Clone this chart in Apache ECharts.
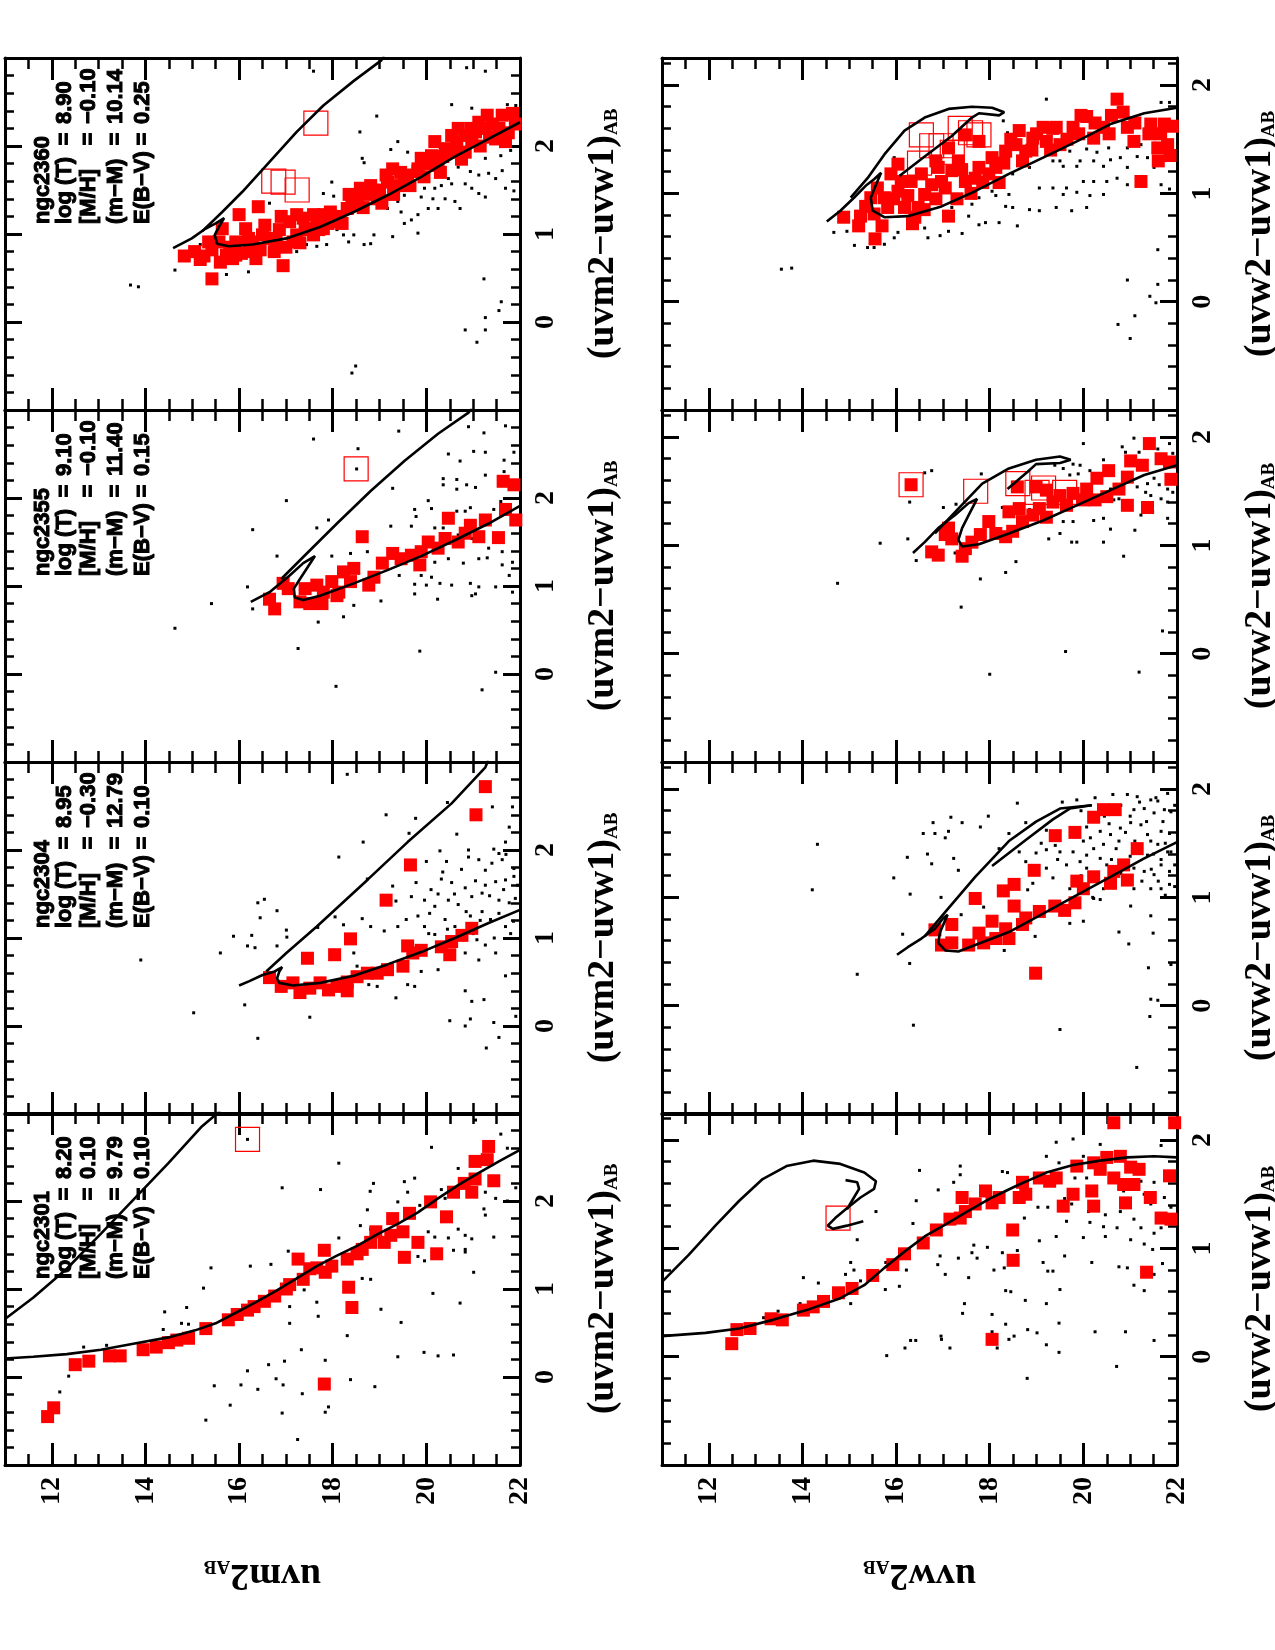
<!DOCTYPE html>
<html><head><meta charset="utf-8">
<script src="https://cdn.jsdelivr.net/npm/echarts@6/dist/echarts.min.js"></script>
<style>html,body{margin:0;padding:0;background:#fff}#c{width:1275px;height:1650px}</style>
</head><body><div id="c"></div>
<script>
// ---------- tick labels / texts ----------
const magTicks = [12, 14, 16, 18, 20, 22];
const colorTicks = [0, 1, 2];
const magNames = ['uvm2', 'uvw2'];
const colorNames = ['(uvm2\u2212uvw1)', '(uvw2\u2212uvw1)'];
const clusters = ['ngc2301', 'ngc2304', 'ngc2355', 'ngc2360'];
const logT = ['8.20', '8.95', '9.10', '8.90'];
const metal = ['0.10', '\u22120.30', '\u22120.10', '\u22120.10'];
const distMod = ['9.79', '12.79', '11.40', '10.14'];
const ebv = ['0.10', '0.10', '0.15', '0.25'];

// ---------- uvm2 panels: [magnitude, colour] ----------
const m2301Members = [[11.91,-0.45],[12.04,-0.35],[12.50,0.14],[12.79,0.18],[13.23,0.24],[13.46,0.24],[13.95,0.31],[14.23,0.34],[14.49,0.39],[14.67,0.42],[14.92,0.44],[15.29,0.55],[15.77,0.65],[15.96,0.71],[16.18,0.76],[16.32,0.80],[16.54,0.86],[16.76,0.92],[17.01,1.00],[17.08,1.05],[17.26,1.34],[17.37,1.11],[17.51,1.23],[17.66,1.24],[17.82,1.44],[17.84,1.19],[17.98,1.26],[18.31,1.34],[18.34,1.02],[18.41,0.79],[18.52,1.40],[18.63,1.45],[18.81,1.53],[18.92,1.65],[19.10,1.53],[19.24,1.61],[19.28,1.80],[19.50,1.65],[19.53,1.36],[19.64,1.86],[19.82,1.53],[20.09,1.99],[20.22,1.40],[20.43,1.82],[20.58,2.10],[20.81,2.20],[20.97,2.10],[21.04,2.25],[21.04,2.45],[21.30,2.47],[21.33,2.62],[21.44,2.23],[17.82,-0.08]];
const m2301Open = [[16.18,2.70]];
const m2301IsoA = [[11.0,0.21],[11.60,0.23],[12.32,0.26],[13.05,0.31],[13.77,0.38],[14.49,0.45],[15.06,0.53],[15.50,0.61],[15.93,0.73],[16.36,0.85],[16.79,0.98],[17.23,1.12],[17.66,1.26],[18.09,1.38],[18.52,1.49],[18.95,1.62],[19.39,1.74],[19.82,1.87],[20.25,2.03],[20.68,2.18],[21.12,2.32],[21.55,2.45],[22.0,2.58]];
const m2301IsoB = [[11.0,0.66],[11.60,0.90],[12.32,1.23],[13.05,1.63],[13.77,2.03],[14.49,2.43],[15.21,2.85],[15.50,2.98],[15.60,3.03]];
const m2301Field = [[16.18,2.70],[18.13,2.43],[20.11,2.61],[21.05,2.92],[21.59,2.76],[21.73,2.60],[21.91,2.15],[16.92,2.15],[17.74,2.13],[18.87,2.20],[18.80,2.11],[19.53,2.22],[19.75,2.26],[19.60,2.10],[19.39,1.99],[20.32,2.13],[20.40,2.03],[20.68,2.37],[21.26,2.10],[21.48,2.03],[21.73,2.00],[18.74,1.90],[19.86,1.95],[18.59,1.72],[18.81,1.68],[18.13,1.58],[20.04,1.65],[20.18,1.59],[20.47,1.58],[20.68,1.68],[20.83,1.61],[20.83,1.45],[20.97,1.57],[21.23,1.91],[21.26,1.84],[21.44,1.59],[20.58,1.44],[20.83,1.42],[19.96,1.32],[19.82,1.37],[20.14,0.95],[20.72,0.84],[21.01,1.19],[17.05,1.43],[16.68,1.28],[16.24,1.26],[15.40,1.24],[15.24,1.01],[14.88,0.79],[14.41,0.74],[14.77,0.61],[14.92,0.60],[14.38,0.54],[12.68,0.34],[13.17,0.36],[12.36,0.01],[12.17,-0.17],[18.63,1.12],[18.81,1.11],[19.03,0.77],[19.46,0.62],[18.31,0.47],[17.66,0.85],[17.69,0.69],[17.08,0.80],[17.39,0.99],[17.08,0.61],[17.33,0.31],[17.84,0.19],[19.39,0.23],[20.25,0.24],[19.95,0.28],[20.58,0.25],[16.97,0.18],[16.63,0.14],[16.18,0.07],[16.04,-0.09],[15.47,-0.10],[16.40,-0.14],[16.79,-0.02],[16.94,-0.09],[17.35,-0.19],[18.38,-0.03],[18.90,-0.11],[15.81,-0.32],[15.29,-0.49],[16.92,-0.41],[17.91,-0.34],[17.84,-0.40],[17.25,-0.71]];

const m2304Members = [[21.26,2.72],[21.06,2.40],[19.66,1.83],[19.14,1.43],[18.38,0.99],[18.04,0.81],[17.46,0.77],[16.65,0.55],[16.90,0.45],[17.15,0.49],[17.30,0.38],[17.51,0.43],[17.73,0.49],[17.91,0.41],[18.09,0.45],[18.31,0.50],[18.52,0.56],[18.74,0.60],[18.95,0.60],[19.17,0.64],[19.50,0.68],[19.60,0.91],[19.71,0.83],[19.89,0.86],[20.32,0.90],[20.50,0.81],[20.54,0.96],[20.76,1.03],[20.97,1.11],[18.31,0.40]];
const m2304Open = [];
const m2304IsoA = [[22.0,1.32],[21.33,1.17],[20.61,1.00],[19.89,0.84],[19.17,0.70],[18.45,0.57],[17.73,0.49],[17.15,0.46],[16.86,0.49],[16.81,0.54],[16.86,0.62],[16.92,0.67],[16.76,0.62],[16.50,0.58],[16.22,0.51],[16.00,0.46]];
const m2304IsoB = [[16.58,0.62],[17.01,0.83],[17.66,1.13],[18.74,1.66],[19.60,2.09],[20.54,2.53],[21.26,2.94],[21.32,3.02]];
const m2304Field = [[18.31,2.86],[19.14,2.40],[19.77,2.36],[20.45,2.54],[21.41,2.49],[21.84,2.49],[19.63,2.19],[20.65,2.18],[18.65,2.09],[18.13,1.92],[20.29,1.99],[20.90,2.00],[20.90,1.92],[21.44,2.01],[21.55,1.96],[21.69,2.09],[21.77,2.26],[21.87,1.79],[20.00,1.87],[20.43,1.87],[21.12,1.89],[21.26,1.77],[21.62,1.89],[18.74,1.67],[19.28,1.59],[19.78,1.63],[20.32,1.67],[20.54,1.63],[20.83,1.57],[21.26,1.60],[21.48,1.64],[21.69,1.66],[21.87,1.70],[19.35,1.42],[19.68,1.47],[19.96,1.43],[20.18,1.36],[20.47,1.43],[20.68,1.38],[20.97,1.47],[21.19,1.51],[21.55,1.43],[21.77,1.40],[19.82,1.25],[20.07,1.28],[20.40,1.21],[20.61,1.13],[20.94,1.25],[21.19,1.30],[21.37,1.21],[21.69,1.13],[21.86,1.19],[18.63,1.22],[18.81,1.13],[19.10,1.08],[19.39,1.13],[19.57,1.21],[19.96,1.13],[20.18,1.04],[21.08,0.98],[21.26,0.92],[21.48,0.83],[20.83,0.83],[21.12,0.75],[21.69,0.57],[20.83,0.40],[20.97,0.28],[21.23,0.30],[20.50,0.06],[20.94,0.08],[20.83,0.00],[21.44,0.04],[21.55,-0.13],[21.28,-0.25],[21.91,0.11],[20.25,0.64],[19.89,0.62],[19.75,0.45],[19.35,0.32],[19.60,0.47],[18.45,0.83],[18.52,0.68],[18.05,1.24],[18.23,1.15],[16.54,1.44],[16.40,1.40],[16.81,1.31],[16.45,1.23],[17.01,1.09],[17.02,1.01],[15.88,1.02],[16.27,1.03],[16.18,0.91],[16.34,0.89],[16.81,0.91],[15.60,0.83],[13.90,0.75],[15.03,0.15],[16.12,0.24],[16.40,-0.14],[17.51,0.10],[17.68,1.12],[18.95,0.45],[18.77,0.47],[20.10,1.55],[20.35,1.75],[20.60,1.50],[20.75,1.78],[20.85,1.30],[21.05,1.65],[21.15,1.20],[21.35,1.48],[21.40,1.85],[21.55,1.28],[21.65,1.55],[21.80,1.05],[21.90,1.45],[20.45,1.10],[20.25,1.50],[21.00,1.05],[21.45,1.00],[21.70,1.95],[21.95,1.60],[20.05,1.05]];

const m2355Members = [[21.64,2.19],[21.87,2.15],[21.69,1.87],[21.91,1.75],[21.54,1.55],[21.26,1.75],[21.12,1.56],[20.94,1.69],[20.83,1.60],[20.68,1.50],[20.47,1.77],[20.40,1.54],[20.25,1.43],[20.04,1.50],[19.89,1.39],[19.86,1.24],[19.68,1.35],[19.46,1.31],[19.28,1.37],[19.06,1.26],[18.88,1.10],[18.77,1.01],[18.63,1.56],[18.45,1.20],[18.38,1.05],[18.23,1.16],[18.13,0.93],[17.98,1.05],[17.80,0.93],[17.77,0.80],[17.66,1.01],[17.41,0.97],[17.30,0.82],[17.05,0.97],[16.94,1.03],[16.76,0.74],[16.65,0.85],[18.09,0.89],[17.51,0.80]];
const m2355Open = [[18.50,2.33]];
const m2355IsoA = [[22.0,1.91],[21.33,1.71],[20.61,1.52],[19.89,1.34],[19.17,1.18],[18.45,1.03],[17.73,0.89],[17.37,0.84],[17.19,0.87],[17.17,0.97],[17.30,1.08],[17.62,1.34],[17.37,1.26],[17.08,1.12],[16.65,0.93],[16.25,0.82]];
const m2355IsoB = [[16.90,1.08],[17.37,1.33],[18.09,1.71],[18.81,2.08],[19.53,2.42],[20.25,2.73],[20.90,2.97],[20.97,3.02]];
const m2355Field = [[17.59,2.67],[18.54,2.56],[18.51,2.33],[19.41,2.76],[20.90,2.81],[21.23,2.74],[21.69,2.82],[20.47,2.50],[20.72,2.42],[21.01,2.53],[21.26,2.52],[21.66,2.43],[21.87,2.52],[21.66,2.30],[20.36,2.22],[20.65,2.21],[20.86,2.15],[21.05,2.12],[21.26,2.26],[19.28,2.11],[20.36,2.15],[20.65,2.10],[17.01,1.97],[20.04,1.97],[20.11,1.88],[19.75,1.87],[20.65,1.85],[20.83,1.85],[20.94,1.89],[21.44,1.87],[21.59,1.96],[17.91,1.75],[17.66,1.66],[16.29,1.64],[19.24,1.68],[19.68,1.68],[20.18,1.66],[19.78,1.79],[20.36,1.66],[20.68,1.58],[20.97,1.54],[21.33,1.43],[21.62,1.39],[21.84,1.27],[18.38,1.37],[18.74,1.39],[17.98,1.34],[20.18,1.27],[20.47,1.31],[20.79,1.26],[21.12,1.31],[21.30,1.32],[21.62,1.24],[21.77,1.12],[19.42,1.12],[19.89,1.12],[20.11,1.10],[20.29,1.03],[20.54,1.01],[20.94,1.03],[21.12,0.99],[21.48,0.99],[21.84,0.93],[19.75,1.02],[20.00,1.01],[19.75,0.91],[21.05,0.91],[20.97,0.89],[20.24,0.85],[19.03,0.83],[18.45,0.78],[18.23,0.65],[17.69,0.59],[16.29,0.74],[16.18,0.99],[15.41,0.80],[14.63,0.52],[17.26,0.29],[18.07,-0.14],[19.86,0.26],[21.48,0.02],[21.19,-0.18],[16.81,1.34],[17.84,0.89]];

const m2360Members = [[14.83,0.75],[15.17,0.71],[15.42,0.49],[15.42,0.82],[15.57,0.91],[15.73,0.76],[15.86,0.72],[16.00,1.22],[16.14,1.06],[16.29,0.91],[16.36,0.72],[16.41,1.31],[16.65,0.95],[16.86,1.05],[16.94,0.64],[17.08,1.14],[17.23,0.99],[17.37,1.18],[17.59,1.22],[17.59,0.99],[17.80,1.06],[17.95,1.25],[18.09,1.20],[18.31,1.29],[18.52,1.40],[18.59,1.52],[18.81,1.55],[18.95,1.40],[19.14,1.67],[19.28,1.74],[19.39,1.55],[19.53,1.63],[19.82,1.74],[19.89,1.86],[20.11,1.89],[20.25,1.78],[20.40,1.97],[20.54,2.12],[20.68,2.20],[20.83,1.93],[20.97,2.05],[21.12,2.27],[21.26,2.20],[21.41,2.25],[21.62,2.35],[21.84,2.37],[21.69,2.05],[21.48,2.08],[20.83,2.12],[20.18,2.05],[19.82,1.71],[18.88,1.48],[18.09,1.14],[17.66,1.14],[17.23,1.22],[16.79,0.91],[16.50,0.99],[15.93,0.91],[15.64,1.06],[15.35,0.91],[15.93,0.76],[16.22,0.80],[17.15,0.91],[17.41,1.06],[17.80,1.22],[18.41,1.33],[19.17,1.59],[19.60,1.67],[20.47,1.93],[21.05,2.16],[15.05,0.80],[15.25,0.75],[15.60,0.68],[15.80,0.85],[16.05,0.78],[16.20,0.95],[16.45,0.82],[16.55,1.10],[16.75,0.80],[17.00,0.85],[16.90,1.20],[17.30,0.90],[17.45,1.05],[17.70,1.05],[17.90,1.12],[18.20,1.12],[18.35,1.45],[18.65,1.30],[18.75,1.45],[19.00,1.50],[19.05,1.35],[19.30,1.45],[19.45,1.70],[19.65,1.55],[19.95,1.65],[20.00,1.80],[20.30,1.70],[20.35,1.88],[20.60,1.95],[20.75,1.85],[20.95,2.20],[21.15,2.00],[21.35,2.10],[21.55,2.20],[21.75,2.15],[21.90,2.25],[21.30,2.35],[20.65,2.05]];
const m2360Open = [[17.64,2.26],[16.74,1.60],[16.94,1.59],[17.24,1.50]];
const m2360IsoA = [[22.0,2.27],[21.33,2.08],[20.61,1.88],[19.89,1.65],[19.17,1.44],[18.45,1.25],[17.73,1.08],[17.01,0.95],[16.29,0.88],[15.78,0.86],[15.53,0.89],[15.48,0.99],[15.57,1.08],[15.68,1.18],[15.50,1.12],[15.28,1.06],[14.99,0.95],[14.59,0.84]];
const m2360IsoB = [[15.21,1.03],[15.64,1.25],[16.07,1.48],[16.65,1.82],[17.23,2.16],[17.80,2.46],[18.45,2.74],[19.03,2.97],[19.10,3.02]];
const m2360Field = [[17.59,2.85],[20.86,2.89],[21.26,2.85],[20.54,2.47],[20.97,2.43],[21.73,2.47],[21.91,2.46],[18.94,2.34],[18.58,2.16],[19.39,2.05],[19.24,1.96],[19.60,1.93],[18.63,1.86],[18.67,1.81],[21.26,1.86],[21.59,1.89],[21.62,1.72],[21.80,1.95],[20.68,1.76],[20.94,1.71],[21.12,1.67],[21.33,1.69],[21.48,1.63],[21.69,1.52],[21.87,1.49],[20.47,1.63],[20.32,1.55],[20.18,1.52],[20.54,1.57],[20.83,1.57],[20.97,1.52],[21.12,1.46],[21.26,1.42],[19.96,1.52],[19.89,1.42],[20.14,1.40],[20.40,1.40],[20.61,1.37],[20.72,1.29],[20.25,1.29],[20.04,1.29],[19.82,1.22],[19.53,1.44],[19.39,1.37],[19.17,1.29],[19.46,1.25],[19.68,1.16],[19.53,1.12],[19.82,1.01],[19.28,0.97],[18.88,0.99],[18.81,0.89],[18.67,0.88],[18.45,0.99],[18.23,0.99],[18.09,1.05],[17.87,0.88],[17.66,0.86],[17.44,0.88],[17.23,0.80],[17.08,0.84],[18.34,0.91],[17.80,1.46],[17.98,1.59],[18.02,1.43],[16.65,1.35],[16.20,0.57],[15.73,0.54],[15.17,0.88],[14.63,0.59],[13.68,0.42],[13.85,0.40],[21.23,0.49],[21.55,0.13],[21.60,0.23],[21.26,0.05],[20.83,-0.09],[21.26,-0.09],[21.08,-0.23],[18.49,-0.50],[18.41,-0.58]];

// ---------- uvw2 panels ----------
const w2301Members = [[12.49,0.12],[12.60,0.25],[12.88,0.26],[13.33,0.35],[13.57,0.34],[14.02,0.43],[14.23,0.46],[14.45,0.51],[14.77,0.59],[15.06,0.63],[15.50,0.75],[15.93,0.85],[16.18,0.95],[16.58,1.05],[16.86,1.17],[17.15,1.27],[17.37,1.28],[17.41,1.47],[17.91,1.53],[18.05,1.42],[18.20,1.47],[18.49,1.17],[18.50,0.89],[18.63,1.47],[18.70,1.61],[19.06,1.65],[19.28,1.62],[19.42,1.65],[19.57,1.39],[19.78,1.50],[19.86,1.76],[20.18,1.53],[20.22,1.39],[20.22,1.79],[20.36,1.73],[20.50,1.84],[20.65,2.16],[20.65,1.65],[20.79,1.85],[20.86,1.59],[20.90,1.42],[21.01,1.75],[21.08,1.59],[21.19,1.73],[21.35,0.78],[21.43,1.47],[21.66,1.28],[21.84,1.67],[21.87,1.27],[18.05,0.16],[21.95,2.16],[18.77,1.50],[17.69,1.41],[17.48,1.34]];
const w2301Open = [[14.76,1.28]];
const w2301IsoA = [[11.0,0.19],[11.93,0.22],[12.65,0.26],[13.37,0.34],[14.09,0.43],[14.81,0.54],[15.32,0.66],[15.75,0.82],[16.18,0.97],[16.61,1.11],[17.05,1.22],[17.48,1.33],[18.05,1.47],[18.63,1.59],[19.21,1.70],[19.78,1.77],[20.36,1.81],[20.94,1.84],[21.51,1.85],[22.0,1.84]];
const w2301IsoB = [[11.0,0.69],[11.57,0.94],[12.14,1.21],[12.65,1.44],[13.15,1.64],[13.66,1.76],[14.23,1.81],[14.81,1.78],[15.32,1.70],[15.57,1.62],[15.53,1.55],[15.24,1.47],[14.95,1.37],[14.70,1.28],[14.54,1.21],[14.65,1.18],[14.95,1.21],[15.30,1.25]];
const w2301IsoC = [[14.92,1.63],[15.17,1.61],[15.21,1.55],[15.10,1.47],[14.95,1.36]];
const w2301Field = [[19.42,1.98],[19.78,2.01],[20.36,1.96],[21.66,1.95],[19.21,1.85],[19.48,1.79],[20.00,1.85],[17.37,1.76],[16.50,1.72],[18.27,1.71],[18.38,1.70],[17.37,1.68],[17.23,1.61],[16.90,1.54],[19.82,1.65],[20.07,1.65],[20.58,1.62],[20.86,1.53],[21.23,1.62],[21.51,1.61],[21.73,1.47],[21.30,1.50],[19.60,1.46],[19.75,1.41],[19.03,1.38],[19.24,1.38],[20.11,1.34],[20.47,1.31],[20.79,1.34],[21.08,1.27],[21.44,1.41],[21.87,1.38],[18.74,1.28],[19.64,1.25],[20.14,1.24],[20.43,1.20],[20.72,1.19],[21.23,1.19],[21.51,1.14],[21.66,1.19],[19.42,1.11],[19.06,1.07],[20.00,1.10],[20.47,1.11],[21.01,1.08],[21.30,1.04],[21.48,0.99],[17.66,1.03],[17.95,1.01],[18.27,0.96],[18.59,0.98],[19.60,0.93],[20.18,0.87],[19.14,0.87],[17.62,0.96],[17.73,0.91],[17.33,0.91],[17.05,0.76],[17.55,0.73],[19.24,0.79],[19.50,0.62],[19.35,0.79],[18.76,0.52],[19.21,0.49],[18.34,0.61],[18.45,0.60],[18.31,0.82],[18.09,0.80],[20.76,0.83],[20.94,0.82],[21.08,0.66],[21.30,0.61],[21.51,0.76],[21.69,0.86],[15.03,0.87],[15.10,0.80],[14.92,0.76],[15.24,0.70],[14.34,0.68],[14.02,0.73],[13.95,0.49],[13.48,0.42],[13.17,0.36],[15.03,0.49],[15.78,0.87],[16.07,0.65],[15.77,0.62],[16.22,0.80],[16.36,1.23],[15.57,1.34],[15.17,1.08],[16.94,0.93],[16.89,0.85],[16.43,1.44],[18.05,0.39],[18.05,0.23],[17.46,0.49],[17.42,0.40],[18.34,0.30],[18.81,0.25],[19.01,0.22],[19.48,0.31],[20.25,0.23],[20.90,0.23],[21.51,0.15],[18.52,0.19],[18.41,0.16],[19.21,0.11],[19.48,0.04],[16.96,0.19],[16.97,0.16],[17.15,0.08],[16.31,0.15],[16.42,0.15],[16.19,0.08],[15.80,0.01],[20.71,-0.09],[18.80,-0.20],[18.16,0.08]];

const w2304Members = [[20.43,1.81],[20.22,1.74],[20.68,1.81],[19.40,1.57],[19.82,1.60],[21.15,1.45],[20.86,1.30],[20.65,1.24],[20.58,1.13],[20.22,1.19],[19.86,1.15],[20.00,1.08],[20.94,1.16],[18.95,1.25],[18.52,1.12],[18.29,1.06],[17.69,0.99],[18.52,0.92],[19.06,0.87],[19.39,0.92],[19.60,0.88],[19.82,0.95],[18.77,0.81],[18.05,0.78],[18.34,0.71],[18.13,0.62],[17.77,0.67],[17.55,0.56],[17.19,0.58],[16.97,0.56],[16.83,0.70],[17.19,0.75],[17.87,0.58],[18.41,0.62],[18.98,0.30],[18.70,0.75]];
const w2304Open = [];
const w2304IsoA = [[22.0,1.51],[21.30,1.36],[20.58,1.19],[19.86,1.02],[19.14,0.85],[18.41,0.68],[17.69,0.56],[17.33,0.50],[17.05,0.51],[16.90,0.58],[16.94,0.68],[17.05,0.79],[17.10,0.84],[17.01,0.81],[16.83,0.71],[16.54,0.62],[16.25,0.54],[16.02,0.47]];
const w2304IsoB = [[16.61,0.64],[17.12,0.90],[17.69,1.19],[18.41,1.52],[18.99,1.70],[19.50,1.82],[20.18,1.85]];
const w2304IsoC = [[20.18,1.85],[19.71,1.82],[19.35,1.72],[18.77,1.53],[18.05,1.29]];
const w2304Field = [[18.59,1.87],[19.86,1.90],[20.63,1.95],[20.94,1.95],[21.15,1.93],[21.44,1.90],[21.59,1.89],[21.80,1.96],[21.08,1.81],[21.30,1.82],[21.51,1.78],[21.73,1.81],[21.87,1.79],[17.97,1.75],[17.17,1.74],[16.79,1.69],[17.41,1.69],[17.80,1.65],[16.58,1.59],[16.83,1.59],[17.05,1.55],[17.12,1.61],[18.41,1.59],[18.77,1.69],[19.21,1.62],[20.07,1.65],[20.36,1.61],[20.58,1.58],[20.79,1.64],[21.01,1.69],[21.23,1.67],[21.37,1.58],[21.66,1.61],[21.84,1.59],[20.00,1.52],[20.22,1.45],[20.43,1.49],[20.76,1.52],[21.44,1.52],[21.59,1.49],[21.80,1.42],[18.20,1.45],[18.63,1.42],[18.99,1.41],[19.21,1.44],[19.50,1.42],[19.78,1.42],[20.07,1.39],[20.36,1.36],[21.37,1.39],[21.66,1.35],[21.87,1.42],[17.23,1.36],[16.67,1.40],[16.24,1.37],[16.76,1.31],[17.33,1.25],[18.77,1.33],[19.21,1.27],[19.64,1.30],[19.93,1.33],[20.07,1.27],[20.50,1.30],[21.08,1.27],[21.30,1.24],[21.51,1.21],[21.66,1.30],[21.84,1.24],[15.95,1.18],[19.35,1.18],[18.92,1.13],[19.71,1.08],[20.43,1.08],[21.08,1.08],[21.44,1.08],[21.66,1.08],[21.84,1.12],[16.30,1.03],[16.96,1.00],[18.81,1.07],[20.22,0.99],[20.36,0.98],[21.01,0.92],[17.39,0.84],[21.44,0.83],[17.87,0.91],[19.71,0.76],[20.00,0.78],[18.97,0.64],[16.14,0.66],[20.76,0.68],[21.49,0.67],[20.97,0.57],[18.31,0.51],[16.29,0.39],[15.17,0.29],[21.39,0.35],[21.87,0.38],[21.44,0.06],[21.59,0.05],[21.42,-0.10],[16.37,-0.18],[19.50,-0.22],[21.14,-0.57],[14.32,1.49],[14.21,1.07],[19.55,1.88],[19.95,1.80],[20.25,1.92],[20.45,1.75],[20.80,1.85],[21.00,1.75],[21.20,1.88],[21.35,1.70],[21.55,1.92],[21.70,1.70],[21.95,1.85],[19.90,1.60],[20.15,1.55],[20.70,1.45],[20.90,1.60],[21.10,1.52],[21.50,1.40],[21.75,1.50],[21.95,1.30],[20.60,1.35],[20.80,1.22],[21.00,1.38],[21.25,1.15],[21.60,1.15],[21.95,1.10],[20.30,1.18],[19.95,1.20],[19.45,1.35],[19.10,1.50],[18.90,1.25],[19.40,1.48],[20.55,1.68],[21.45,1.26],[21.75,1.02],[20.20,1.00]];

const w2355Members = [[16.32,1.56],[21.41,1.94],[21.66,1.80],[21.01,1.78],[21.26,1.74],[21.84,1.77],[21.87,1.61],[20.94,1.63],[20.54,1.69],[20.29,1.62],[20.07,1.52],[20.76,1.52],[20.94,1.37],[21.37,1.35],[20.50,1.45],[20.25,1.42],[20.00,1.42],[19.78,1.48],[19.50,1.46],[19.21,1.51],[18.99,1.54],[18.59,1.54],[18.63,1.34],[18.41,1.31],[19.21,1.26],[18.92,1.28],[18.70,1.22],[18.49,1.13],[18.34,1.08],[18.13,1.11],[17.98,1.22],[17.80,1.10],[17.62,1.03],[17.48,0.97],[17.19,1.06],[17.12,1.16],[17.05,1.10],[16.90,0.91],[16.76,0.94],[17.41,0.90],[19.35,1.40],[19.64,1.37],[19.06,1.34]];
const w2355Open = [[16.32,1.56],[17.70,1.50],[18.60,1.57],[19.15,1.53],[19.60,1.49],[19.01,1.49]];
const w2355IsoA = [[22.0,1.74],[21.30,1.65],[20.58,1.51],[19.86,1.37],[19.14,1.23],[18.41,1.11],[17.77,1.01],[17.41,0.99],[17.33,1.05],[17.41,1.16],[17.55,1.28],[17.73,1.43],[17.55,1.39],[17.26,1.28],[16.90,1.16],[16.61,1.03],[16.36,0.93]];
const w2355IsoB = [[16.83,1.11],[17.33,1.34],[17.84,1.57],[18.41,1.71],[18.99,1.79],[19.50,1.82],[19.73,1.79],[19.50,1.76],[18.99,1.75],[18.81,1.68],[18.38,1.52]];
const w2355Field = [[20.00,1.94],[21.08,1.99],[20.83,1.91],[20.90,1.86],[21.19,1.86],[21.59,1.89],[21.84,1.94],[21.91,1.85],[16.76,1.69],[16.61,1.67],[17.82,1.66],[19.39,1.74],[19.57,1.71],[19.78,1.75],[19.93,1.74],[20.14,1.69],[20.22,1.65],[20.43,1.79],[19.71,1.65],[19.89,1.66],[21.51,1.62],[21.37,1.57],[21.62,1.56],[21.80,1.52],[21.15,1.54],[21.33,1.49],[21.44,1.46],[21.66,1.43],[21.80,1.40],[21.91,1.49],[20.58,1.52],[20.76,1.43],[20.65,1.42],[21.23,1.28],[21.48,1.31],[21.80,1.25],[17.01,1.35],[17.28,1.38],[16.29,1.40],[18.27,1.35],[19.57,1.22],[19.78,1.22],[20.22,1.23],[20.43,1.25],[18.85,1.33],[19.50,1.11],[19.75,1.03],[19.26,1.06],[20.58,1.15],[21.10,1.14],[19.86,1.03],[20.43,1.03],[20.86,0.90],[18.56,0.85],[18.34,0.75],[17.80,0.69],[17.26,0.93],[16.43,0.86],[16.25,1.06],[15.66,1.02],[14.75,0.65],[17.39,0.43],[19.62,0.02],[21.19,-0.17],[21.69,0.21],[18.00,-0.19]];

const w2360Members = [[14.88,0.78],[15.24,0.79],[15.53,0.81],[15.55,0.58],[15.46,0.96],[15.60,1.05],[15.89,1.18],[16.04,1.27],[16.04,1.02],[16.18,0.87],[16.40,0.78],[16.32,1.11],[16.54,1.18],[16.61,0.99],[16.76,1.08],[16.97,1.11],[17.12,0.79],[17.19,1.21],[17.33,1.30],[17.48,1.11],[17.69,1.14],[17.77,1.24],[17.98,1.18],[18.05,1.33],[18.34,1.39],[18.63,1.58],[18.56,1.45],[18.77,1.39],[19.14,1.61],[19.21,1.48],[19.50,1.45],[19.78,1.61],[20.07,1.71],[20.22,1.51],[20.43,1.61],[20.72,1.87],[20.94,1.61],[21.08,1.48],[21.23,1.11],[21.44,1.64],[21.59,1.42],[21.73,1.64],[21.80,1.45],[17.12,1.42],[17.48,1.54],[17.77,1.48],[16.47,0.87],[15.82,0.87],[16.11,1.11],[15.75,0.96],[16.90,1.24],[18.13,1.24],[18.92,1.51],[19.42,1.61],[15.20,0.70],[15.35,0.88],[15.70,0.70],[15.95,0.95],[16.25,0.98],[16.35,0.72],[16.60,0.85],[16.85,0.95],[16.85,1.30],[17.05,1.05],[17.30,0.95],[17.40,1.22],[17.60,1.00],[17.85,1.10],[18.20,1.10],[18.30,1.28],[18.45,1.50],[18.70,1.30],[18.90,1.40],[19.00,1.55],[19.30,1.40],[19.35,1.60],[19.65,1.50],[19.90,1.55],[19.95,1.72],[20.25,1.65],[20.55,1.55],[20.60,1.72],[20.85,1.75],[21.10,1.65],[21.40,1.55],[21.65,1.55],[21.90,1.62],[21.85,1.35],[21.60,1.30]];
const w2360Open = [[16.54,1.54],[16.76,1.44],[16.96,1.44],[17.37,1.60],[17.59,1.56],[17.77,1.54],[17.20,1.38],[16.50,1.28]];
const w2360IsoA = [[22.0,1.79],[21.30,1.74],[20.58,1.64],[19.86,1.48],[19.14,1.33],[18.41,1.18],[17.69,1.02],[16.97,0.88],[16.25,0.79],[15.75,0.78],[15.50,0.84],[15.46,0.96],[15.57,1.08],[15.68,1.19],[15.53,1.13],[15.35,1.07],[15.10,0.96],[14.81,0.84],[14.52,0.74]];
const w2360IsoB = [[15.03,0.96],[15.39,1.14],[15.75,1.36],[16.18,1.58],[16.61,1.70],[17.12,1.78],[17.62,1.80],[18.05,1.79],[18.31,1.75],[18.20,1.72],[17.77,1.74],[17.62,1.70],[17.19,1.53],[16.61,1.34],[16.07,1.16]];
const w2360Field = [[19.21,1.87],[21.66,1.84],[21.84,1.84],[18.29,1.67],[18.38,1.56],[19.71,1.39],[20.07,1.41],[20.29,1.38],[20.54,1.42],[20.94,1.42],[21.23,1.45],[21.37,1.51],[21.59,1.51],[21.15,1.34],[21.37,1.33],[19.35,1.30],[19.50,1.30],[19.93,1.30],[20.22,1.30],[20.58,1.31],[20.79,1.33],[18.85,1.24],[19.57,1.25],[19.86,1.25],[20.43,1.25],[20.94,1.24],[21.51,1.24],[18.49,1.18],[19.06,1.05],[19.35,1.05],[19.64,1.05],[20.00,1.11],[20.22,1.11],[20.50,1.11],[20.72,1.14],[20.94,1.08],[21.66,1.08],[21.84,1.04],[18.20,1.07],[18.41,0.99],[18.05,1.02],[19.57,0.99],[19.86,1.01],[20.14,0.98],[20.43,0.99],[20.07,0.87],[19.75,0.84],[19.42,0.87],[19.06,0.84],[18.85,0.85],[18.49,0.87],[18.34,0.88],[18.13,0.98],[17.77,0.96],[17.62,0.90],[17.33,0.93],[17.19,0.87],[17.55,0.79],[17.77,0.71],[17.91,0.73],[18.20,0.73],[18.59,0.70],[17.41,0.63],[17.12,0.65],[16.94,0.61],[16.68,0.59],[16.61,0.68],[16.32,0.68],[16.04,0.64],[15.96,0.59],[15.75,0.53],[15.53,0.50],[15.39,0.50],[15.11,0.52],[14.95,0.65],[14.67,0.64],[15.32,0.87],[15.96,1.33],[13.55,0.30],[13.77,0.31],[21.59,0.48],[20.94,0.20],[21.59,0.16],[21.42,0.05],[21.55,-0.01],[21.10,-0.13],[20.74,-0.21],[21.00,-0.34]];

// ---------- layout ----------
const COL_X = [5, 662], GW = 515;
const ROW_Y = [58, 410, 762, 1113], GH = 352;
const COLOR_RANGE = [[-1, 3], [-1, 2.25]];
const SERIF = '"Liberation Serif","DejaVu Serif",serif';
const SANS = '"Liberation Sans","DejaVu Sans",sans-serif';

// row 0 = top (ngc2360) ... row 3 = bottom (ngc2301); cluster index: 0=2301,1=2304,2=2355,3=2360
const panels = [
  {col:0,row:3,ci:0,members:m2301Members,open:m2301Open,field:m2301Field,iso:[m2301IsoA,m2301IsoB]},
  {col:0,row:2,ci:1,members:m2304Members,open:m2304Open,field:m2304Field,iso:[m2304IsoA,m2304IsoB]},
  {col:0,row:1,ci:2,members:m2355Members,open:m2355Open,field:m2355Field,iso:[m2355IsoA,m2355IsoB]},
  {col:0,row:0,ci:3,members:m2360Members,open:m2360Open,field:m2360Field,iso:[m2360IsoA,m2360IsoB]},
  {col:1,row:3,ci:0,members:w2301Members,open:w2301Open,field:w2301Field,iso:[w2301IsoA,w2301IsoB,w2301IsoC]},
  {col:1,row:2,ci:1,members:w2304Members,open:w2304Open,field:w2304Field,iso:[w2304IsoA,w2304IsoB,w2304IsoC]},
  {col:1,row:1,ci:2,members:w2355Members,open:w2355Open,field:w2355Field,iso:[w2355IsoA,w2355IsoB]},
  {col:1,row:0,ci:3,members:w2360Members,open:w2360Open,field:w2360Field,iso:[w2360IsoA,w2360IsoB]}
];

const grids = [], xAxes = [], yAxes = [], series = [], graphics = [];
const BLACK = '#000';

function tickLabelStyle(rot, margin) {
  return {rotate: rot, margin: margin, fontSize: 28, fontWeight: 'bold', fontFamily: SERIF, color: BLACK};
}

panels.forEach((p, gi) => {
  const gx = COL_X[p.col], gy = ROW_Y[p.row];
  grids.push({left: gx, top: gy, width: GW, height: GH, containLabel: false, outerBoundsMode: 'none'});
  const xb = {gridIndex: gi, type: 'value', min: 11, max: 22, splitLine: {show: false}};
  ['bottom', 'top'].forEach(pos => {
    xAxes.push(Object.assign({}, xb, {position: pos, interval: 0.5,
      axisLine: {show: true, onZero: false, lineStyle: {color: BLACK, width: 3}},
      axisTick: {show: true, inside: true, length: 11, lineStyle: {color: BLACK, width: 2.5}},
      axisLabel: {show: false}}));
    xAxes.push(Object.assign({}, xb, {position: pos,
      axisLine: {show: false, onZero: false},
      axisTick: {show: true, inside: true, length: 22, customValues: magTicks, lineStyle: {color: BLACK, width: 3}},
      axisLabel: Object.assign({show: pos === 'bottom' && p.row === 3, customValues: magTicks}, tickLabelStyle(90, 12))}));
  });
  const cr = COLOR_RANGE[p.col];
  const yb = {gridIndex: gi, type: 'value', min: cr[0], max: cr[1], splitLine: {show: false}};
  ['left', 'right'].forEach(pos => {
    yAxes.push(Object.assign({}, yb, {position: pos, interval: 0.2,
      axisLine: {show: true, onZero: false, lineStyle: {color: BLACK, width: 3}},
      axisTick: {show: true, inside: true, length: 9, lineStyle: {color: BLACK, width: 2.5}},
      axisLabel: {show: false}}));
    yAxes.push(Object.assign({}, yb, {position: pos,
      axisLine: {show: false, onZero: false},
      axisTick: {show: true, inside: true, length: 17, customValues: colorTicks, lineStyle: {color: BLACK, width: 3}},
      axisLabel: Object.assign({show: pos === 'right', customValues: colorTicks}, tickLabelStyle(90, 12))}));
  });
  const xi = gi * 4 + 1, yi = gi * 4 + 1;
  series.push({type: 'scatter', xAxisIndex: xi, yAxisIndex: yi, data: p.field, symbol: 'rect', symbolSize: 3,
    itemStyle: {color: BLACK, opacity: 1}, z: 2, silent: true});
  series.push({type: 'scatter', xAxisIndex: xi, yAxisIndex: yi, data: p.members, symbol: 'rect', symbolSize: 13,
    itemStyle: {color: '#ff0000', opacity: 1}, z: 3, silent: true});
  if (p.open.length) series.push({type: 'scatter', xAxisIndex: xi, yAxisIndex: yi, data: p.open, symbol: 'rect', symbolSize: 24,
    itemStyle: {color: 'rgba(0,0,0,0)', borderColor: '#ff0000', borderWidth: 1.2, opacity: 1}, z: 4, silent: true});
  p.iso.forEach(iso => series.push({type: 'line', xAxisIndex: xi, yAxisIndex: yi, data: iso, symbol: 'none', showSymbol: false,
    clip: true, lineStyle: {color: BLACK, width: 2.6}, z: 5, silent: true}));

  // colour axis name (rotated)
  graphics.push({type: 'text', x: gx + GW + 83, y: gy + GH / 2, rotation: Math.PI / 2, silent: true,
    style: {text: '{a|' + colorNames[p.col] + '}{b|AB}', align: 'center', verticalAlign: 'middle',
      textAlign: 'center', textVerticalAlign: 'middle',
      rich: {a: {fontSize: 38, fontWeight: 'bold', fontFamily: SERIF, fill: BLACK, color: BLACK},
             b: {fontSize: 19, fontWeight: 'bold', fontFamily: SERIF, fill: BLACK, color: BLACK, verticalAlign: 'bottom'}}}});
  // magnitude axis name under bottom row (upside down)
  if (p.row === 3) {
    graphics.push({type: 'text', x: gx + GW / 2, y: 1575, rotation: Math.PI, silent: true,
      style: {text: '{a|' + magNames[p.col] + '}{b|AB}', align: 'center', verticalAlign: 'middle',
        textAlign: 'center', textVerticalAlign: 'middle',
        rich: {a: {fontSize: 38, fontWeight: 'bold', fontFamily: SERIF, fill: BLACK, color: BLACK},
               b: {fontSize: 19, fontWeight: 'bold', fontFamily: SERIF, fill: BLACK, color: BLACK, verticalAlign: 'bottom'}}}});
  }
  // cluster parameters (uvm2 column)
  if (p.col === 0) {
    const font = 'bold 22px ' + SANS;
    const lines = [[clusters[p.ci], null], ['log (T)', logT[p.ci]], ['[M/H]', metal[p.ci]], ['(m\u2212M)', distMod[p.ci]], ['E(B\u2212V)', ebv[p.ci]]];
    const offs = [38, 60, 84, 111, 138];
    const st = (txt, al) => ({text: txt, font: font, fill: BLACK, stroke: BLACK, lineWidth: 1.0,
      align: al, verticalAlign: 'middle', textAlign: al, textVerticalAlign: 'middle'});
    lines.forEach((ln, k) => {
      const lx = gx + offs[k];
      graphics.push({type: 'text', x: lx, y: gy + 166, rotation: Math.PI / 2, silent: true, style: st(ln[0], 'left')});
      if (ln[1] !== null) {
        graphics.push({type: 'text', x: lx, y: gy + 81, rotation: Math.PI / 2, silent: true, style: st('=', 'center')});
        graphics.push({type: 'text', x: lx, y: gy + 66, rotation: Math.PI / 2, silent: true, style: st(ln[1], 'left')});
      }
    });
  }
});

const chart = echarts.init(document.getElementById('c'), null, {renderer: 'canvas'});
chart.setOption({
  animation: false,
  backgroundColor: '#fff',
  grid: grids, xAxis: xAxes, yAxis: yAxes, series: series, graphic: graphics
});
</script>
</body></html>
